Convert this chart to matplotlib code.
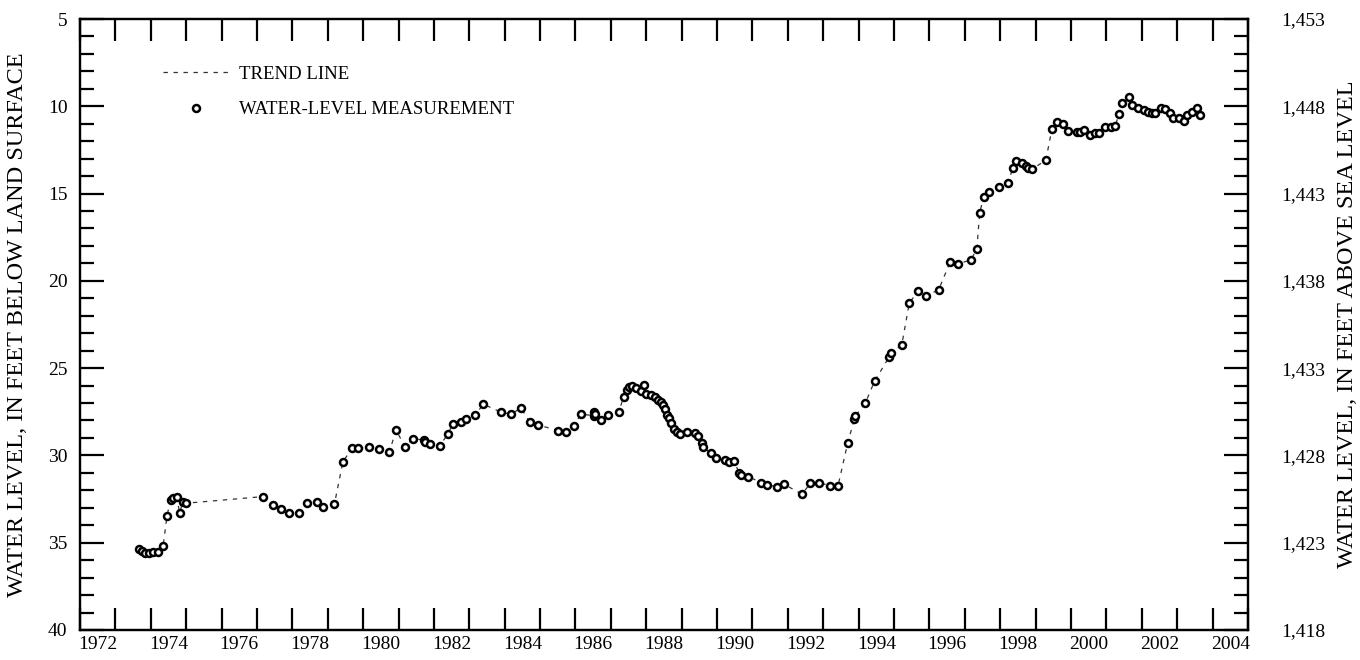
import numpy as np
import matplotlib
matplotlib.use("Agg")
import matplotlib.pyplot as plt
from matplotlib.lines import Line2D
from matplotlib.ticker import FixedLocator, MultipleLocator, FuncFormatter

plt.rcParams["font.family"] = ["Liberation Serif", "DejaVu Serif"]

# measurement dates (decimal years) and depth to water, ft below land surface
years = [
    1973.67, 1973.74, 1973.83, 1973.95, 1974.07, 1974.21, 1974.35, 1974.46, 1974.56, 1974.63, 1974.73, 1974.82, 1974.90, 1974.99,
    1977.17, 1977.44, 1977.69, 1977.90, 1978.19, 1978.42, 1978.69, 1978.88, 1979.19, 1979.43, 1979.69, 1979.85,
    1980.16, 1980.44, 1980.74, 1980.93, 1981.18, 1981.42, 1981.71, 1981.76, 1981.89, 1982.16, 1982.39, 1982.53, 1982.77,
    1982.91, 1983.16, 1983.40, 1983.91, 1984.18, 1984.46, 1984.71, 1984.93, 1985.52, 1985.73, 1985.95, 1986.16,
    1986.51, 1986.52, 1986.56, 1986.72, 1986.93, 1987.23, 1987.36, 1987.47, 1987.52, 1987.61, 1987.72, 1987.85, 1987.94,
    1988.00, 1988.13, 1988.25, 1988.34, 1988.41, 1988.47, 1988.54, 1988.60, 1988.64, 1988.69, 1988.78, 1988.88, 1988.95,
    1989.16, 1989.38, 1989.47, 1989.58, 1989.60, 1989.82, 1989.96, 1990.22, 1990.34, 1990.48, 1990.62, 1990.69, 1990.88,
    1991.25, 1991.42, 1991.68, 1991.89, 1992.40, 1992.64, 1992.89, 1993.18, 1993.42, 1993.69, 1993.88, 1993.91, 1994.19,
    1994.45, 1994.87, 1994.91, 1995.22, 1995.43, 1995.68, 1995.91, 1996.26,
    1996.59, 1996.80, 1997.17, 1997.34, 1997.42, 1997.53, 1997.67, 1997.97, 1998.23, 1998.35, 1998.44, 1998.61, 1998.73,
    1998.80, 1998.91, 1999.29,
    1999.46, 1999.60, 1999.77, 1999.93, 2000.16, 2000.26, 2000.37, 2000.54, 2000.68, 2000.79, 2000.96, 2001.12, 2001.25,
    2001.36, 2001.45, 2001.64, 2001.73, 2001.90, 2002.06, 2002.18, 2002.28, 2002.37, 2002.54, 2002.67, 2002.81, 2002.89,
    2003.05, 2003.20, 2003.29, 2003.41, 2003.57, 2003.64,
]
depth = [
    35.37, 35.47, 35.57, 35.57, 35.54, 35.51, 35.18, 33.45, 32.55, 32.45, 32.39, 33.31, 32.65, 32.74,
    32.36, 32.83, 33.08, 33.28, 33.28, 32.70, 32.66, 32.97, 32.78, 30.36, 29.59, 29.59,
    29.50, 29.63, 29.82, 28.54, 29.50, 29.05, 29.11, 29.25, 29.36, 29.46, 28.79, 28.21, 28.06,
    27.91, 27.70, 27.07, 27.53, 27.64, 27.28, 28.10, 28.25, 28.58, 28.64, 28.29, 27.64,
    27.72, 27.49, 27.64, 28.00, 27.70, 27.49, 26.63, 26.25, 26.10, 26.00, 26.15, 26.29, 25.95,
    26.48, 26.55, 26.63, 26.82, 26.95, 27.11, 27.32, 27.68, 27.87, 28.12, 28.47, 28.65, 28.77,
    28.67, 28.73, 28.87, 29.27, 29.53, 29.84, 30.16, 30.26, 30.36, 30.30, 30.99, 31.12, 31.21,
    31.56, 31.69, 31.79, 31.65, 32.22, 31.59, 31.56, 31.73, 31.73, 29.30, 27.91, 27.74, 27.00,
    25.75, 24.34, 24.15, 23.67, 21.28, 20.58, 20.85, 20.52,
    18.90, 19.03, 18.80, 18.19, 16.13, 15.18, 14.89, 14.64, 14.37, 13.55, 13.11, 13.27, 13.42,
    13.55, 13.59, 13.09,
    11.32, 10.88, 11.03, 11.40, 11.49, 11.45, 11.36, 11.64, 11.55, 11.55, 11.20, 11.17, 11.11,
    10.44, 9.83, 9.48, 9.93, 10.10, 10.21, 10.31, 10.37, 10.37, 10.11, 10.17, 10.37, 10.65,
    10.65, 10.86, 10.50, 10.34, 10.10, 10.48,
]
LAND_SURFACE = 1458  # ft above sea level
year_labels = list(range(1972, 2005, 2))

fig = plt.figure(figsize=(13.6, 6.6), dpi=100)
ax = fig.add_axes([0.0588, 0.0455, 0.8588, 0.9257])

ax.plot(years, depth, color="#333333", lw=0.9, ls=(0, (3.5, 4.5)), zorder=2)
ax.plot(years, depth, ls="none", marker="o", ms=5, mew=1.8, mfc="white", mec="black", zorder=3)

ax.set_xlim(1972, 2005)
ax.set_ylim(40, 5)

# year ticks at boundaries, labels centred in the year
ax.xaxis.set_major_locator(MultipleLocator(1))
ax.xaxis.set_major_formatter(FuncFormatter(lambda v, p: ""))
ax.xaxis.set_minor_locator(FixedLocator([y + 0.5 for y in year_labels]))
ax.xaxis.set_minor_formatter(FuncFormatter(lambda v, p: f"{int(v)}"))
ax.tick_params(axis="x", which="major", direction="in", length=16, width=1.6, top=True, bottom=True)
ax.tick_params(axis="x", which="minor", length=0, labelsize=14, pad=4)

ax.yaxis.set_major_locator(MultipleLocator(5))
ax.yaxis.set_minor_locator(MultipleLocator(1))
ax.tick_params(axis="y", which="major", direction="in", length=17, width=1.6, labelsize=14, pad=9, right=False)
ax.tick_params(axis="y", which="minor", direction="in", length=10, width=1.6, right=False)
ax.set_ylabel("WATER LEVEL, IN FEET BELOW LAND SURFACE", fontsize=17.5, labelpad=14)

ax2 = ax.twinx()
ax2.set_ylim(LAND_SURFACE - 40, LAND_SURFACE - 5)
ax2.yaxis.set_major_locator(MultipleLocator(5, offset=3))
ax2.yaxis.set_minor_locator(MultipleLocator(1))
ax2.yaxis.set_major_formatter(FuncFormatter(lambda v, p: f"{int(round(v)):,}"))
ax2.tick_params(axis="y", which="major", direction="in", length=17, width=1.6, labelsize=14, pad=24)
ax2.tick_params(axis="y", which="minor", direction="in", length=10, width=1.6)
ax2.set_ylabel("WATER LEVEL, IN FEET ABOVE SEA LEVEL", fontsize=17.5, labelpad=8)

for a in (ax, ax2):
    for s in a.spines.values():
        s.set_linewidth(1.6)

handles = [
    Line2D([], [], color="#333333", lw=0.9, ls=(0, (3.5, 4.5))),
    Line2D([], [], ls="none", marker="o", ms=5, mew=1.8, mfc="white", mec="black"),
]
ax.legend(handles, ["TREND LINE", "WATER-LEVEL MEASUREMENT"], loc="upper left",
          bbox_to_anchor=(0.071, 0.924), frameon=False, fontsize=13.5,
          handlelength=3.5, handletextpad=0.55, labelspacing=1.0,
          borderpad=0, borderaxespad=0)

fig.savefig("out.png", dpi=100)
